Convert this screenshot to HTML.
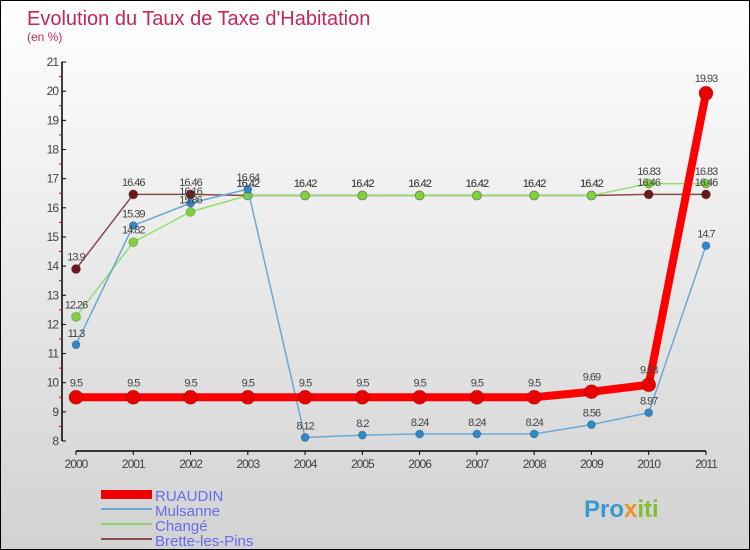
<!DOCTYPE html>
<html><head><meta charset="utf-8"><style>
body{margin:0}
#c{width:748px;height:548px;border:1px solid #000;background:linear-gradient(#fff,#d2d2d2);position:relative;overflow:hidden;font-family:"Liberation Sans",sans-serif}
</style></head><body>
<div id="c">
<svg id="s" width="748" height="548" xmlns="http://www.w3.org/2000/svg">
<text x="26" y="24" font-size="20" fill="#c0285a">Evolution du Taux de Taxe d'Habitation</text>
<text x="26" y="40" font-size="12" fill="#c0285a">(en %)</text>
<g id="axes"></g><g id="series"></g><g id="labels"></g>
<g>
<rect x="100" y="489" width="51" height="9" fill="#e00"/>
<text x="154" y="500" font-size="15" fill="#6a6aee">RUAUDIN</text>
<rect x="100" y="507" width="51" height="2" fill="#6fa8d0"/>
<text x="154" y="515" font-size="15" fill="#6a6aee">Mulsanne</text>
<rect x="100" y="522" width="51" height="2" fill="#90d070"/>
<text x="154" y="530" font-size="15" fill="#6a6aee">Changé</text>
<rect x="100" y="537" width="51" height="2" fill="#8a5050"/>
<text x="154" y="545" font-size="15" fill="#6a6aee">Brette-les-Pins</text>
</g>
<text x="583" y="516" font-size="24" font-weight="bold" fill="#3a9ad0">Pro<tspan fill="#f09020">x</tspan><tspan fill="#80c030">iti</tspan></text>
</svg></div>
<script>
const years=["2000","2001","2002","2003","2004","2005","2006","2007","2008","2009","2010","2011"];
const yTicks=[8,9,10,11,12,13,14,15,16,17,18,19,20,21];
const ruaudin=[9.5,9.5,9.5,9.5,9.5,9.5,9.5,9.5,9.5,9.69,9.93,19.93];
const mulsanne=[11.3,15.39,16.16,16.64,8.12,8.2,8.24,8.24,8.24,8.56,8.97,14.7];
const change=[12.26,14.82,15.86,16.42,16.42,16.42,16.42,16.42,16.42,16.42,16.83,16.83];
const brette=[13.9,16.46,16.46,16.42,16.42,16.42,16.42,16.42,16.42,16.42,16.46,16.46];
const NS="http://www.w3.org/2000/svg";
const X=i=>75+i*57.27, Y=v=>440-(v-8)*29.15;
function mk(t,a,p){const e=document.createElementNS(NS,t);for(const k in a)e.setAttribute(k,a[k]);p.appendChild(e);return e;}
const ax=document.getElementById('axes');
let l=mk('line',{x1:61,y1:61,x2:61,y2:440,stroke:'#000','stroke-width':1.5},ax);


l=mk('line',{x1:75,y1:450,x2:705,y2:450,stroke:'#000','stroke-width':1.5},ax);


yTicks.forEach(v=>{
 mk('line',{x1:61,y1:Y(v),x2:65,y2:Y(v),stroke:'#000'},ax);
 if(v<21)mk('line',{x1:58,y1:Y(v+0.5),x2:61,y2:Y(v+0.5),stroke:'#e00'},ax);
 const t=mk('text',{x:57,y:Y(v)+4,'font-size':12,'text-anchor':'end',fill:'#444','letter-spacing':'-1'},ax);
 t.textContent=v;
 
 
});
years.forEach((y,i)=>{
 mk('line',{x1:X(i),y1:450,x2:X(i),y2:454,stroke:'#000'},ax);
 const t=mk('text',{x:X(i),y:467,'font-size':12,'text-anchor':'middle',fill:'#444','letter-spacing':'-1'},ax);
 t.textContent=y;
 
 
});
const sg=document.getElementById('series'),lg=document.getElementById('labels');
function draw(data,color,w,r,name,dot){
 const p=mk('polyline',{points:data.map((v,i)=>X(i)+','+Y(v)).join(' '),fill:'none',stroke:color,'stroke-width':w},sg);
 
 
 data.forEach((v,i)=>{
  const c=mk('circle',{cx:X(i),cy:Y(v),r:r,fill:dot,stroke:'#0003'},sg);
  
  
  const t=mk('text',{x:X(i),y:Y(v)-r-4,'font-size':11,'text-anchor':'middle',fill:'#444','letter-spacing':'-1'},lg);
  t.textContent=String(v);
  
  
 });
}
draw(brette,'#8a4a4a',1.5,4.5,'brette','#6a1a1a');
draw(change,'#90e070',1.5,4.5,'change','#80d040');
draw(mulsanne,'#6aa8d8',1.5,4,'mulsanne','#3088c8');
draw(ruaudin,'#f00',8,7,'ruaudin','#e80000');
</script>
</body></html>
